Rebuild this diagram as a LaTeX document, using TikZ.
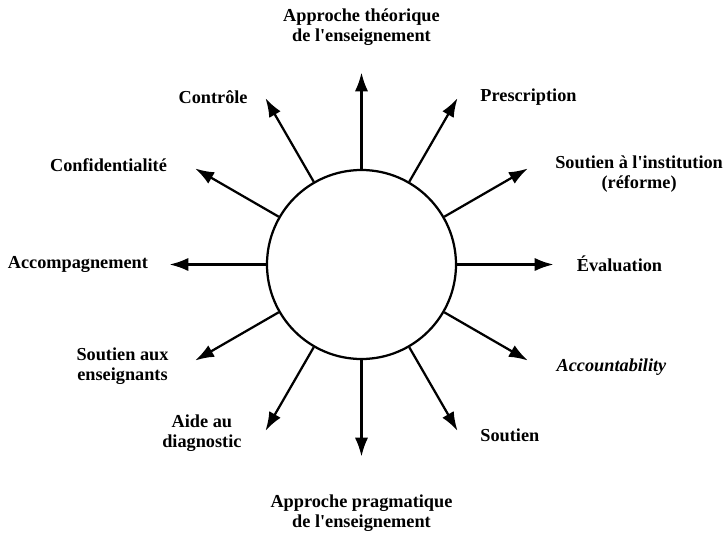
\documentclass[tikz,border=0pt]{standalone}
\usepackage{fontspec}
\setmainfont{Liberation Serif}
\usepackage{tikz}
\usetikzlibrary{arrows.meta,positioning}
\tikzstyle{line} = [draw, line width=1.6pt, -{Latex[length=0.47cm,width=0.33cm]}]
\tikzstyle{lbl} = [font=\fontsize{13}{14.2}\selectfont\bfseries, align=center, inner sep=0pt]

\begin{document}
\begin{tikzpicture}
		\useasboundingbox (-9.0375,-6.7125) rectangle (9.1125,6.6125); % frame of the picture
		\node[draw, circle, line width=1.6pt, minimum size=4.725cm, inner sep=0pt] (c) at (0,0) {}; % centre circle
		% tips of the twelve arrows
		\coordinate (t0)   at (0:4.8);
		\coordinate (t30)  at (30:4.8);
		\coordinate (t60)  at (60:4.8);
		\coordinate (t90)  at (90:4.8);
		\coordinate (t120) at (120:4.8);
		\coordinate (t150) at (150:4.8);
		\coordinate (t180) at (180:4.8);
		\coordinate (t210) at (210:4.8);
		\coordinate (t240) at (240:4.8);
		\coordinate (t270) at (270:4.8);
		\coordinate (t300) at (300:4.8);
		\coordinate (t330) at (330:4.8);
		\draw[line] (c.0)   -- (t0);   % Evaluation
		\draw[line] (c.30)  -- (t30);  % institution
		\draw[line] (c.60)  -- (t60);  % Prescription
		\draw[line] (c.90)  -- (t90);  % theorique
		\draw[line] (c.120) -- (t120); % Controle
		\draw[line] (c.150) -- (t150); % Confidentialite
		\draw[line] (c.180) -- (t180); % Accompagnement
		\draw[line] (c.210) -- (t210); % enseignants
		\draw[line] (c.240) -- (t240); % diagnostic
		\draw[line] (c.270) -- (t270); % pragmatique
		\draw[line] (c.300) -- (t300); % Soutien
		\draw[line] (c.330) -- (t330); % Accountability
		% labels
		\node[lbl] (theo)  at (0,5.94)       {Approche théorique\\de l\textquotesingle enseignement};
		\node[lbl] (ctrl)  at (-3.71,4.19)   {Contrôle};
		\node[lbl] (conf)  at (-6.325,2.49)  {Confidentialité};
		\node[lbl] (acc)   at (-7.09,0)      {Accompagnement};
		\node[lbl] (presc) at (4.175,4.19)   {Prescription};
		\node[lbl] (inst)  at (6.94,2.26)    {Soutien à l\textquotesingle institution\\(réforme)};
		\node[lbl] (eval)  at (6.45,0.02)    {Évaluation};
		\node[lbl] (accnt) at (6.25,-2.56)   {\itshape Accountability};
		\node[lbl] (sout)  at (3.71,-4.26)   {Soutien};
		\node[lbl] (prag)  at (0,-6.21)      {Approche pragmatique\\de l\textquotesingle enseignement};
		\node[lbl] (ens)   at (-5.975,-2.54) {Soutien aux\\enseignants};
		\node[lbl] (diag)  at (-3.99,-4.225) {Aide au\\diagnostic};
\end{tikzpicture}
\end{document}
